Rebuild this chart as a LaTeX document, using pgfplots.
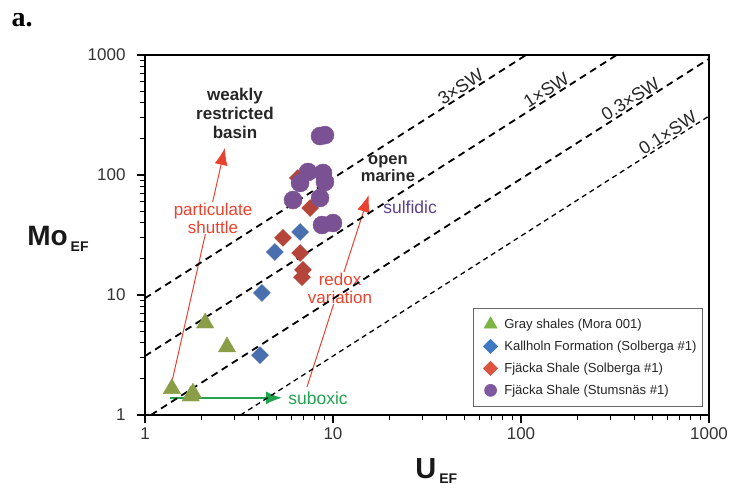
\documentclass[border=0pt]{standalone}
\usepackage{fontspec}
\setmainfont{Liberation Sans}
\newfontfamily\serifbold{Liberation Serif}
\usepackage{pgfplots}
\pgfplotsset{compat=1.18}
\usetikzlibrary{arrows.meta}
\definecolor{cgreen}{HTML}{8A9E47}
\definecolor{cblue}{HTML}{4A6FAE}
\definecolor{cred}{HTML}{B5443A}
\definecolor{cpurple}{HTML}{7A5192}
\definecolor{lgreen}{HTML}{7DB544}
\definecolor{lblue}{HTML}{3F79C4}
\definecolor{lred}{HTML}{DD5440}
\definecolor{lpurple}{HTML}{7E58A0}
\definecolor{annred}{HTML}{E8432F}
\definecolor{anngreen}{HTML}{22A350}
\definecolor{annpurple}{HTML}{5B418E}
\begin{document}
\begin{tikzpicture}
\begin{axis}[
  at={(0pt,0pt)}, anchor=south west,
  scale only axis, width=564pt, height=360pt,
  xmode=log, ymode=log,
  xmin=1, xmax=1000, ymin=1, ymax=1000,
  axis x line*=bottom, axis y line*=left,
  log ticks with fixed point,
  /pgf/number format/1000 sep={},
  /pgf/number format/assume math mode=true,
  tick align=outside,
  major tick length=8pt, minor tick length=5pt,
  every tick/.style={black, line width=1.1pt},
  axis line style={line width=1.6pt, black},
  ticklabel style={font=\fontsize{17}{20}\selectfont, text=black!80},
  xticklabel style={yshift=-1pt},
  yticklabel style={xshift=-8pt},
  clip=false,
  legend image code/.code={%
    \draw[mark repeat=2,mark phase=2,#1] plot coordinates {(0cm,0cm) (0.3cm,0cm) (0.6cm,0cm)};
    \path (-0.15cm,0cm) (0.7cm,0cm);},
  legend style={at={(rel axis cs:0.989,0.297)}, anchor=north east,
    draw=black!60, line width=0.6pt, font=\fontsize{13.1}{15}\selectfont,
    text=black!85, row sep=7pt, inner xsep=4pt, inner ysep=8.5pt,
    cells={anchor=west}},
  legend cell align=left,
]
% data
\addplot[only marks, mark=triangle*, mark size=10pt, color=cgreen, forget plot]
  coordinates {(2.09,5.84) (2.73,3.69) (1.39,1.66) (1.80,1.52) (1.75,1.44)};
\addplot[only marks, mark=square*, mark size=6pt, mark options={rotate=45}, color=cblue, forget plot]
  coordinates {(4.09,3.16) (4.19,10.4) (4.91,22.8) (6.68,33.5)};
\addplot[only marks, mark=square*, mark size=6pt, mark options={rotate=45}, color=cred, forget plot]
  coordinates {(5.42,29.9) (6.68,22.4) (6.92,16.2) (6.84,14.1) (7.55,53.1) (6.51,94.4)};
\addplot[only marks, mark=*, mark size=9pt, color=cpurple, forget plot]
  coordinates {(8.53,211) (9.06,215) (7.36,106) (8.85,104) (6.68,85.8) (9.06,87.5)
               (6.13,61.9) (8.53,64.3) (8.74,38.3) (10.0,39.8)};
% arrows
\addplot[annred, line width=1pt, -{Latex[length=17pt,width=13pt]}, forget plot]
  coordinates {(1.36,1.62) (2.66,168)};
\addplot[annred, line width=1pt, -{Latex[length=17pt,width=13pt]}, forget plot]
  coordinates {(7.27,1.71) (15.5,68.1)};
\addplot[anngreen, line width=1.8pt, -{Latex[length=16pt,width=13pt]}, forget plot]
  coordinates {(1.36,1.39) (5.35,1.39)};
% texts
\node[font=\fontsize{17}{19}\selectfont\bfseries, align=center, text=black!85]
  at (axis cs:3.01,328) {weakly\\restricted\\basin};
\node[fill=white, text=annred, align=center, font=\fontsize{17}{18}\selectfont, inner sep=1pt]
  at (axis cs:2.30,43.8) {particulate\\shuttle};
\node[fill=white, text=annred, align=center, font=\fontsize{17}{18}\selectfont, inner sep=1pt]
  at (axis cs:10.9,11.4) {redox\\variation};
\node[font=\fontsize{16.5}{17}\selectfont\bfseries, align=center, text=black!85]
  at (axis cs:19.6,114) {open\\marine};
\node[text=annpurple, font=\fontsize{17.5}{19}\selectfont]
  at (axis cs:25.7,54.1) {sulfidic};
\node[text=anngreen, font=\fontsize{17.5}{19}\selectfont]
  at (axis cs:8.32,1.39) {suboxic};
% seawater lines
\addplot[black, line width=1.8pt, dash pattern=on 7pt off 5pt, forget plot]
  coordinates {(1,9.4) (106.4,1000)}
  node[pos=0.84, sloped, above, inner sep=1pt, font=\fontsize{18}{20}\selectfont, text=black!85] {3×SW};
\addplot[black, line width=1.8pt, dash pattern=on 7pt off 5pt, forget plot]
  coordinates {(1,3.1) (322.6,1000)}
  node[pos=0.86, sloped, above, inner sep=1pt, font=\fontsize{18}{20}\selectfont, text=black!85] {1×SW};
\addplot[black, line width=1.8pt, dash pattern=on 7pt off 5pt, forget plot]
  coordinates {(1.075,1) (1000,930)}
  node[pos=0.867, sloped, above, inner sep=1pt, font=\fontsize{18}{20}\selectfont, text=black!85] {0.3×SW};
\addplot[black, line width=1.3pt, dash pattern=on 5pt off 4pt, forget plot]
  coordinates {(3.226,1) (1000,310)}
  node[pos=0.921, sloped, above, inner sep=1pt, font=\fontsize{18}{20}\selectfont, text=black!85] {0.1×SW};
% axis ticks (outside, left and bottom), same geometry as the axis ticks
\addplot[only marks, mark=|, mark size=4pt, mark options={line width=1.1pt, yshift=-4pt}, black, forget plot]
  coordinates {(1,1) (10,1) (100,1) (1000,1)};
\addplot[only marks, mark=|, mark size=2.5pt, mark options={line width=1.1pt, yshift=-2.5pt}, black, forget plot]
  coordinates {(2,1) (3,1) (4,1) (5,1) (6,1) (7,1) (8,1) (9,1)
               (20,1) (30,1) (40,1) (50,1) (60,1) (70,1) (80,1) (90,1)
               (200,1) (300,1) (400,1) (500,1) (600,1) (700,1) (800,1) (900,1)};
\addplot[only marks, mark=-, mark size=4pt, mark options={line width=1.1pt, xshift=-4pt}, black, forget plot]
  coordinates {(1,1) (1,10) (1,100) (1,1000)};
\addplot[only marks, mark=-, mark size=2.5pt, mark options={line width=1.1pt, xshift=-2.5pt}, black, forget plot]
  coordinates {(1,2) (1,3) (1,4) (1,5) (1,6) (1,7) (1,8) (1,9)
               (1,20) (1,30) (1,40) (1,50) (1,60) (1,70) (1,80) (1,90)
               (1,200) (1,300) (1,400) (1,500) (1,600) (1,700) (1,800) (1,900)};
% top and right frame lines
\draw[line width=1.6pt, black] (rel axis cs:0,1) -- (rel axis cs:1,1) -- (rel axis cs:1,0);
% legend
\addlegendimage{only marks, mark=triangle*, mark size=7.5pt, color=lgreen}
\addlegendentry{Gray shales (Mora 001)}
\addlegendimage{only marks, mark=square*, mark size=5pt, mark options={rotate=45}, color=lblue}
\addlegendentry{Kallholn Formation (Solberga \#1)}
\addlegendimage{only marks, mark=square*, mark size=5pt, mark options={rotate=45}, color=lred}
\addlegendentry{Fjäcka Shale (Solberga \#1)}
\addlegendimage{only marks, mark=*, mark size=6pt, color=lpurple}
\addlegendentry{Fjäcka Shale (Stumsnäs \#1)}
% labels
\node[anchor=base west, inner sep=0pt, font=\fontsize{28}{30}\selectfont\bfseries, text=black!90]
  at (rel axis cs:-0.209,0.472) {Mo\hspace{3pt}\raisebox{-6pt}{\fontsize{14}{15}\selectfont EF}};
\node[anchor=base west, inner sep=0pt, font=\fontsize{29}{30}\selectfont\bfseries, text=black!90]
  at (rel axis cs:0.479,-0.175) {U\hspace{3pt}\raisebox{-5pt}{\fontsize{14}{15}\selectfont EF}};
\node[anchor=center, inner sep=0pt, font=\serifbold\fontsize{28}{30}\selectfont\bfseries]
  at (rel axis cs:-0.218,1.097) {a.};
\end{axis}
\pgfresetboundingbox
\path[use as bounding box] (-145pt,-76pt) rectangle (590pt,415pt);
\end{tikzpicture}
\end{document}
